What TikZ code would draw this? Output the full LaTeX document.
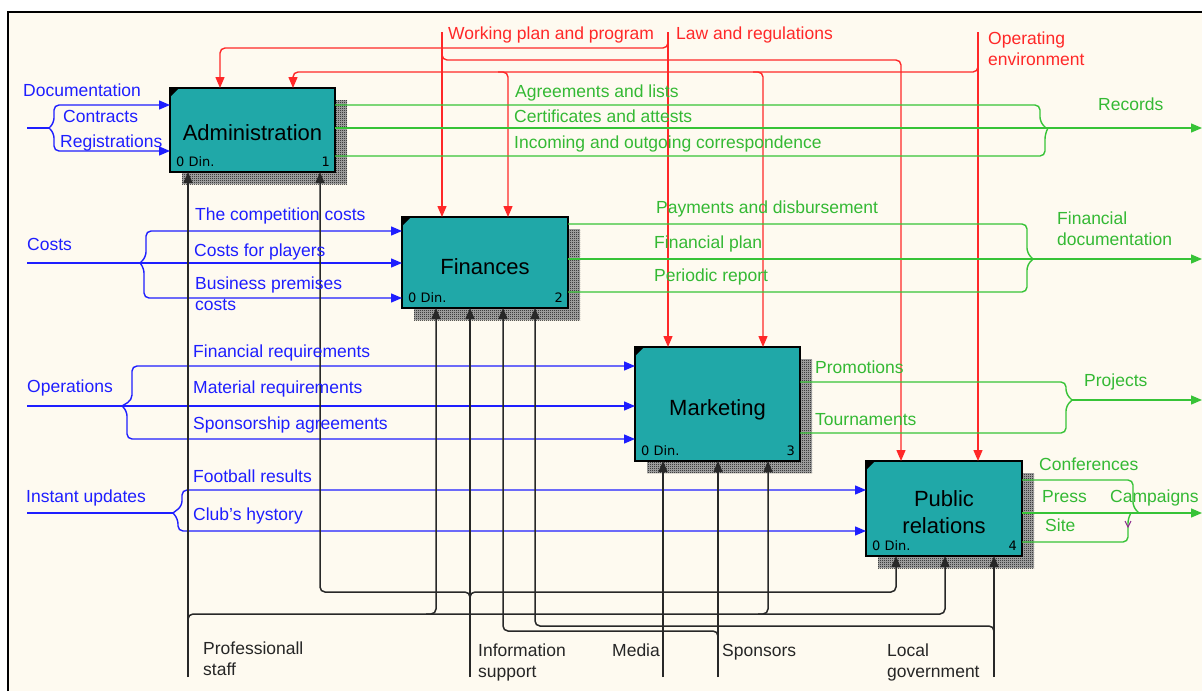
\documentclass[tikz,border=0pt]{standalone}
\usepackage{fontspec}
\setmainfont{Liberation Sans}
\newfontfamily\dinfont{DejaVu Sans}
\usetikzlibrary{arrows.meta,patterns}

\definecolor{paper}{RGB}{254,250,240}
\definecolor{boxfill}{RGB}{32,168,168}
\definecolor{inblue}{RGB}{30,30,255}
\definecolor{ctlred}{RGB}{255,40,40}
\definecolor{outgreen}{RGB}{55,195,55}
\definecolor{mechgray}{RGB}{40,40,40}
\definecolor{tunnel}{RGB}{140,40,140}

% fine checker used for the drop shadows of the activity boxes
\pgfdeclarepatternformonly{shadechecker}{\pgfpointorigin}{\pgfqpoint{2pt}{2pt}}{\pgfqpoint{2pt}{2pt}}{%
  \pgfpathrectangle{\pgfpointorigin}{\pgfqpoint{1pt}{1pt}}%
  \pgfpathrectangle{\pgfqpoint{1pt}{1pt}}{\pgfqpoint{1pt}{1pt}}%
  \pgfusepath{fill}}

\begin{document}
\begin{tikzpicture}[x=1pt,y=-1pt,
  actbox/.style={draw=black,line width=2.4pt,fill=boxfill,anchor=north west,inner sep=0pt,outer sep=0pt},
  boxtitle/.style={font=\fontsize{22}{27}\selectfont,align=center,anchor=base,inner sep=0pt},
  dinlabel/.style={font=\dinfont\fontsize{13}{15}\selectfont,inner sep=0pt},
  lbl/.style={font=\fontsize{17.5}{21}\selectfont,anchor=base west,inner sep=0pt,align=left},
  tip/.style={-{Triangle[length=11pt,width=9pt]}},
  inflow/.style={draw=inblue,line width=1.4pt,rounded corners=5pt},
  ctlflow/.style={draw=ctlred,line width=1.4pt,rounded corners=5pt},
  outflow/.style={draw=outgreen,line width=1.4pt,rounded corners=5pt},
  mechflow/.style={draw=mechgray,line width=1.5pt,rounded corners=5pt},
  inlbl/.style={lbl,text=inblue},
  ctllbl/.style={lbl,text=ctlred},
  outlbl/.style={lbl,text=outgreen!95!black},
  mechlbl/.style={lbl,text=black!85}
]
\useasboundingbox (0,0) rectangle (1202,691);
\fill[white] (0,0) rectangle (1202,691);
\fill[paper] (8,12) rectangle (1202,691);
\draw[line width=2.2pt] (8,691) -- (8,12) -- (1202,12);

% drop shadows
\foreach \l/\t/\r/\b in {170/88/335/172, 402/217/568/308, 635/347/800/461, 866/461/1022/556}{
  \fill[black!30] (\l+12,\t+12) rectangle (\r+12,\b+12);
  \fill[pattern=shadechecker, pattern color=black] (\l+12,\t+12) rectangle (\r+12,\b+12);
}

% activity boxes
\node[actbox, minimum width=165pt, minimum height=84pt] (adm) at (170,88) {};
\node[actbox, minimum width=166pt, minimum height=91pt] (fin) at (402,217) {};
\node[actbox, minimum width=165pt, minimum height=114pt] (mkt) at (635,347) {};
\node[actbox, minimum width=156pt, minimum height=95pt] (pr) at (866,461) {};

\foreach \b in {adm,fin,mkt,pr}
  \fill (\b.north west) -- ++(9,0) -- ++(-9,9) -- cycle;

% titles (multi-line nodes are placed by the baseline of their last line)
\node[boxtitle] (admtitle) at (252.5,140) {Administration};
\node[boxtitle] (fintitle) at (485,274) {Finances};
\node[boxtitle] (mkttitle) at (717.5,415) {Marketing};
\node[boxtitle] (prtitle) at (944,533) {Public\\relations};

\node[dinlabel, anchor=base west] (admdin) at (176,166) {0 Din.};
\node[dinlabel, anchor=base east] (admnum) at (330,166) {1};
\node[dinlabel, anchor=base west] (findin) at (408,302) {0 Din.};
\node[dinlabel, anchor=base east] (finnum) at (563,302) {2};
\node[dinlabel, anchor=base west] (mktdin) at (641,455) {0 Din.};
\node[dinlabel, anchor=base east] (mktnum) at (795,455) {3};
\node[dinlabel, anchor=base west] (prdin) at (872,550) {0 Din.};
\node[dinlabel, anchor=base east] (prnum) at (1017,550) {4};

% ---------- inputs ----------
\coordinate (docsrc) at (27,128);
\draw[inflow] (docsrc) -- (49,128);
\draw[inflow, tip] (49,128) -- (54,123) -- (54,105) -- (adm.west |- 0,105);
\draw[inflow, tip] (49,128) -- (54,133) -- (54,151) -- (adm.west |- 0,151);

\coordinate (costsrc) at (27,263);
\draw[inflow, tip] (costsrc) -- (fin.west |- 0,263);
\draw[inflow, tip] (140,263) -- (146,257) -- (146,231) -- (fin.west |- 0,231);
\draw[inflow, tip] (140,263) -- (144,268) -- (144,298) -- (fin.west |- 0,298);

\coordinate (opsrc) at (27,406);
\draw[inflow, tip] (opsrc) -- (mkt.west |- 0,406);
\draw[inflow, tip] (122,406) -- (132,400) -- (132,366) -- (mkt.west |- 0,366);
\draw[inflow, tip] (122,406) -- (127,411) -- (127,439) -- (mkt.west |- 0,439);

\coordinate (instsrc) at (27,513);
\draw[inflow] (instsrc) -- (173,513);
\draw[inflow, tip] (173,513) -- (182,506) -- (182,490) -- (pr.west |- 0,490);
\draw[inflow, tip] (173,513) -- (178,519) -- (178,531) -- (pr.west |- 0,531);

% ---------- controls ----------
\coordinate (wpsrc) at (442,32);
\draw[ctlflow, tip] (wpsrc) -- (442,0 |- fin.north);
\draw[ctlflow, tip] (442,50) -- (442,60) -- (901,60) -- (901,0 |- pr.north);

\coordinate (lawsrc) at (668,32);
\draw[ctlflow, tip] (lawsrc) -- (668,0 |- mkt.north);
\draw[ctlflow, tip] (668,38) -- (668,48) -- (220,48) -- (220,0 |- adm.north);

\coordinate (envsrc) at (978,32);
\draw[ctlflow, tip] (envsrc) -- (978,0 |- pr.north);
\draw[ctlflow, tip] (978,62) -- (978,72) -- (293,72) -- (293,0 |- adm.north);
\draw[ctlflow, tip] (498,72) -- (508,72) -- (508,0 |- fin.north);
\draw[ctlflow, tip] (753,72) -- (763,72) -- (763,0 |- mkt.north);

% ---------- outputs ----------
\coordinate (recout) at (1202,128);
\draw[outflow] (adm.east |- 0,105) -- (1040,105) -- (1040,122) -- (1046,128);
\draw[outflow, tip] (adm.east |- 0,128) -- (recout);
\draw[outflow] (adm.east |- 0,156) -- (1045,156) -- (1045,134) -- (1048,128);

\coordinate (findocout) at (1202,259);
\draw[outflow] (fin.east |- 0,224) -- (1027,224) -- (1027,253) -- (1033,259);
\draw[outflow, tip] (fin.east |- 0,259) -- (findocout);
\draw[outflow] (fin.east |- 0,292) -- (1027,292) -- (1027,265) -- (1033,259);

\coordinate (projout) at (1202,400);
\draw[outflow] (mkt.east |- 0,382) -- (1066,382) -- (1066,394) -- (1072,400);
\draw[outflow] (mkt.east |- 0,433) -- (1066,433) -- (1066,406) -- (1072,400);
\draw[outflow, tip] (1072,400) -- (projout);

\coordinate (campout) at (1202,513);
\draw[outflow] (pr.east |- 0,480) -- (1133,480) -- (1133,507) -- (1139,513);
\draw[outflow, tip] (pr.east |- 0,513) -- (campout);
\draw[outflow] (pr.east |- 0,542) -- (1128,542) -- (1128,518) -- (1131,513);
\draw[tunnel, line width=1pt] (1125,521) -- (1128,527) -- (1131,521);

% ---------- mechanisms ----------
\coordinate (staffsrc) at (188,677);
\draw[mechflow, tip] (staffsrc) -- (188,0 |- adm.south);
\draw[mechflow, tip] (188,625) -- (188,614) -- (945,614) -- (945,0 |- pr.south);
\draw[mechflow, tip] (426,614) -- (436,614) -- (436,0 |- fin.south);
\draw[mechflow, tip] (758,614) -- (768,614) -- (768,0 |- mkt.south);

\coordinate (infosrc) at (470,677);
\draw[mechflow, tip] (infosrc) -- (470,0 |- fin.south);
\draw[mechflow, tip] (470,600) -- (470,592) -- (320,592) -- (320,0 |- adm.south);
\draw[mechflow, tip] (470,600) -- (470,592) -- (896,592) -- (896,0 |- pr.south);

\coordinate (mediasrc) at (663,677);
\draw[mechflow, tip] (mediasrc) -- (663,0 |- mkt.south);

\coordinate (sponsrc) at (718,677);
\draw[mechflow, tip] (sponsrc) -- (718,0 |- mkt.south);
\draw[mechflow, tip] (718,640) -- (718,631) -- (503,631) -- (503,0 |- fin.south);

\coordinate (govsrc) at (994,677);
\draw[mechflow, tip] (govsrc) -- (994,0 |- pr.south);
\draw[mechflow, tip] (994,636) -- (994,626) -- (535,626) -- (535,0 |- fin.south);

% ---------- labels ----------
\node[inlbl] (ldoc) at (23,96) {Documentation};
\node[inlbl] (lcon) at (63,122) {Contracts};
\node[inlbl] (lreg) at (60,147) {Registrations};
\node[inlbl] (lcosts) at (27,250) {Costs};
\node[inlbl] (lcomp) at (195,220) {The competition costs};
\node[inlbl] (lplay) at (194,256) {Costs for players};
\node[inlbl] (lprem) at (195,310) {Business premises\\costs};
\node[inlbl] (lops) at (27,392) {Operations};
\node[inlbl] (lfinreq) at (193,357) {Financial requirements};
\node[inlbl] (lmatreq) at (193,393) {Material requirements};
\node[inlbl] (lspons) at (193,429) {Sponsorship agreements};
\node[inlbl] (linst) at (26,502) {Instant updates};
\node[inlbl] (lfoot) at (193,482) {Football results};
\node[inlbl] (lclub) at (193,520) {Club's hystory};

\node[ctllbl] (lwp) at (448,39) {Working plan and program};
\node[ctllbl] (llaw) at (676,39) {Law and regulations};
\node[ctllbl] (lenv) at (988,65) {Operating\\environment};

\node[outlbl] (lagr) at (515,97) {Agreements and lists};
\node[outlbl] (lcert) at (514,122) {Certificates and attests};
\node[outlbl] (lcorr) at (514,148) {Incoming and outgoing correspondence};
\node[outlbl] (lrec) at (1098,110) {Records};
\node[outlbl] (lpay) at (656,213) {Payments and disbursement};
\node[outlbl] (lfplan) at (654,248) {Financial plan};
\node[outlbl] (lper) at (654,281) {Periodic report};
\node[outlbl] (lfdoc) at (1057,245) {Financial\\documentation};
\node[outlbl] (lprom) at (815,373) {Promotions};
\node[outlbl] (ltour) at (815,425) {Tournaments};
\node[outlbl] (lproj) at (1084,386) {Projects};
\node[outlbl] (lconf) at (1039,470) {Conferences};
\node[outlbl] (lpress) at (1042,502) {Press};
\node[outlbl] (lcamp) at (1110,502) {Campaigns};
\node[outlbl] (lsite) at (1045,531) {Site};

\node[mechlbl] (lstaff) at (203,675) {Professionall\\staff};
\node[mechlbl] (linfo) at (478,677) {Information\\support};
\node[mechlbl] (lmedia) at (612,656) {Media};
\node[mechlbl] (lspon) at (722,656) {Sponsors};
\node[mechlbl] (lgov) at (887,677) {Local\\government};
\end{tikzpicture}
\end{document}
